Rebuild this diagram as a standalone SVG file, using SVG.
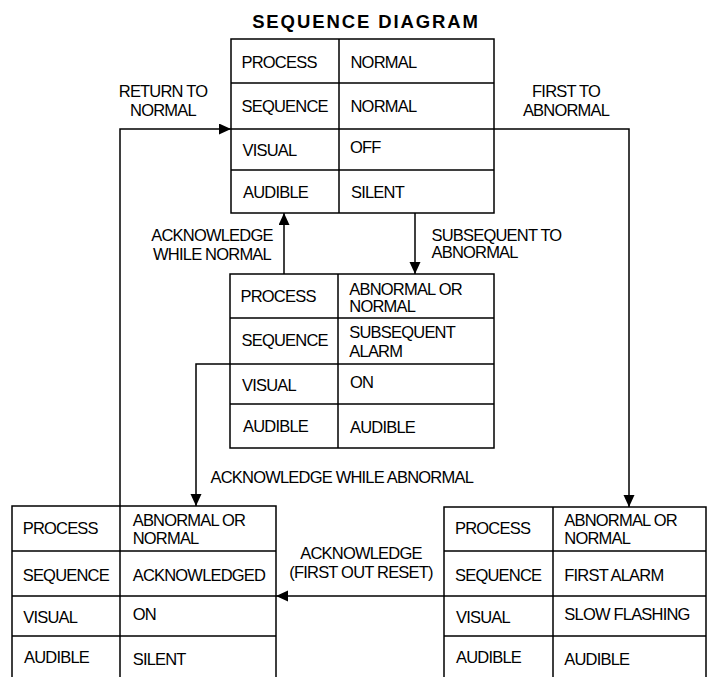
<svg xmlns="http://www.w3.org/2000/svg" width="707" height="677" viewBox="0 0 707 677">
<style>
text{font-family:"Liberation Sans",Arial,sans-serif;font-size:16.5px;letter-spacing:-0.8px;fill:#000}
.title{font-weight:bold;font-size:18.5px;letter-spacing:1.9px}
.c{text-anchor:middle}
.box{fill:none;stroke:#000;stroke-width:1.5}
.ln{fill:none;stroke:#000;stroke-width:1.5}
</style>
<defs>
<marker id="ah" markerUnits="userSpaceOnUse" markerWidth="13" markerHeight="12" refX="12" refY="5.5" orient="auto">
<path d="M0,0 L12,5.5 L0,11 z" fill="#000"/>
</marker>
</defs>
<rect width="707" height="677" fill="#fff"/>
<text class="title c" x="366" y="27.5">SEQUENCE DIAGRAM</text>

<g id="connectors">
<path class="ln" d="M120,506 V129 H231" marker-end="url(#ah)"/>
<path class="ln" d="M494,129 H629 V507" marker-end="url(#ah)"/>
<path class="ln" d="M284,274 V213" marker-end="url(#ah)"/>
<path class="ln" d="M415,213 V274" marker-end="url(#ah)"/>
<path class="ln" d="M230,364 H196 V506" marker-end="url(#ah)"/>
<path class="ln" d="M444,596 H276" marker-end="url(#ah)"/>
<text class="c" x="163" y="96.5">RETURN TO</text>
<text class="c" x="163" y="115.5">NORMAL</text>
<text class="c" x="566" y="96.5">FIRST TO</text>
<text class="c" x="566" y="115.5">ABNORMAL</text>
<text class="c" x="212" y="241">ACKNOWLEDGE</text>
<text class="c" x="212" y="260">WHILE NORMAL</text>
<text x="431.5" y="241">SUBSEQUENT TO</text>
<text x="431.5" y="258.3">ABNORMAL</text>
<text x="210.5" y="483.3">ACKNOWLEDGE WHILE ABNORMAL</text>
<text class="c" x="361" y="559.3">ACKNOWLEDGE</text>
<text class="c" x="361" y="577.5">(FIRST OUT RESET)</text>
</g>

<g id="normal">
<rect class="box" x="231" y="39" width="263" height="174"/>
<path class="ln" d="M339,39 V213 M231,83 H494 M231,129 H494 M231,170 H494"/>
<text x="241.5" y="67.7">PROCESS</text>
<text x="350.5" y="67.7">NORMAL</text>
<text x="241.5" y="111.7">SEQUENCE</text>
<text x="350.5" y="111.7">NORMAL</text>
<text x="242.5" y="156">VISUAL</text>
<text x="350" y="152.5">OFF</text>
<text x="243" y="198">AUDIBLE</text>
<text x="351" y="198">SILENT</text>
</g>

<g id="subsequent-alarm">
<rect class="box" x="230" y="274" width="264" height="174"/>
<path class="ln" d="M338,274 V448 M230,318 H494 M230,364 H494 M230,404 H494"/>
<text x="240.5" y="302">PROCESS</text>
<text x="349.3" y="295">ABNORMAL OR</text>
<text x="349.3" y="312.3">NORMAL</text>
<text x="241.5" y="345.7">SEQUENCE</text>
<text x="349.3" y="338.3">SUBSEQUENT</text>
<text x="349.3" y="356.7">ALARM</text>
<text x="242" y="390.7">VISUAL</text>
<text x="350" y="388.3">ON</text>
<text x="243" y="431.7">AUDIBLE</text>
<text x="350" y="432.7">AUDIBLE</text>
</g>

<g id="acknowledged">
<path class="ln" d="M12,677 V506 H276 V677 M120,506 V677 M12,551 H276 M12,596 H276 M12,636 H276"/>
<text x="22.7" y="534.3">PROCESS</text>
<text x="132.7" y="526">ABNORMAL OR</text>
<text x="132.7" y="544.3">NORMAL</text>
<text x="22.7" y="581">SEQUENCE</text>
<text x="132.7" y="581">ACKNOWLEDGED</text>
<text x="23.3" y="623.3">VISUAL</text>
<text x="132.7" y="620">ON</text>
<text x="24" y="663.3">AUDIBLE</text>
<text x="132.7" y="665">SILENT</text>
</g>

<g id="first-alarm">
<path class="ln" d="M444,677 V507 H706 V677 M553,507 V677 M444,551 H706 M444,596 H706 M444,636 H706"/>
<text x="455" y="534.3">PROCESS</text>
<text x="564.3" y="526">ABNORMAL OR</text>
<text x="564.3" y="544.3">NORMAL</text>
<text x="455" y="581">SEQUENCE</text>
<text x="564.3" y="581">FIRST ALARM</text>
<text x="456" y="623">VISUAL</text>
<text x="564.3" y="620">SLOW FLASHING</text>
<text x="456" y="663">AUDIBLE</text>
<text x="564.3" y="665">AUDIBLE</text>
</g>
</svg>
